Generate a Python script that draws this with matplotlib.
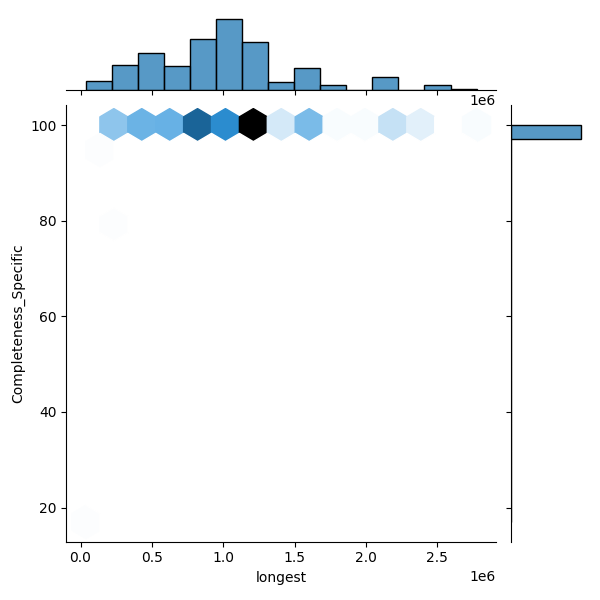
import colorsys
import numpy as np
import pandas as pd
import matplotlib
matplotlib.use("Agg")
import matplotlib.pyplot as plt
from matplotlib.colors import LinearSegmentedColormap, to_rgb
import seaborn as sns

# genome length clusters at 100% completeness: x position and how many genomes
cluster_longest = [0.18e6, 0.28e6, 0.37e6, 0.45e6, 0.55e6, 0.65e6, 0.74e6,
                   0.85e6, 0.93e6, 1.03e6, 1.12e6, 1.22e6, 1.40e6, 1.59e6,
                   1.69e6, 1.78e6, 2.07e6, 2.15e6, 2.45e6, 2.775e6]
cluster_counts = [11, 20, 15, 26, 26, 16, 18,
                  60, 12, 49, 52, 68, 12, 31,
                  6, 2, 2, 16, 8, 2]

# the few incomplete ones
outlier_longest = [0.038e6, 0.12e6, 0.23e6]
outlier_completeness = [17.0, 95.5, 79.0]

longest = np.concatenate([np.repeat(cluster_longest, cluster_counts), outlier_longest])
completeness = np.concatenate([np.full(sum(cluster_counts), 100.0), outlier_completeness])
df = pd.DataFrame({"longest": longest, "Completeness_Specific": completeness})

# same white -> C0 -> black ramp seaborn uses for hex jointplots
h, l, s = colorsys.rgb_to_hls(*to_rgb("C0"))
ramp = [colorsys.hls_to_rgb(h, lv, s) for lv in np.linspace(1, 0, 12)]
cmap = LinearSegmentedColormap.from_list("hexblues", ramp)

g = sns.JointGrid(data=df, x="longest", y="Completeness_Specific", height=6)
g.ax_joint.hexbin(df["longest"], df["Completeness_Specific"], gridsize=14, cmap=cmap)
sns.histplot(x=df["longest"], ax=g.ax_marg_x, bins=15, color="C0")
sns.histplot(y=df["Completeness_Specific"], ax=g.ax_marg_y, bins=28, color="C0")

g.figure.savefig("out.png", dpi=100)
